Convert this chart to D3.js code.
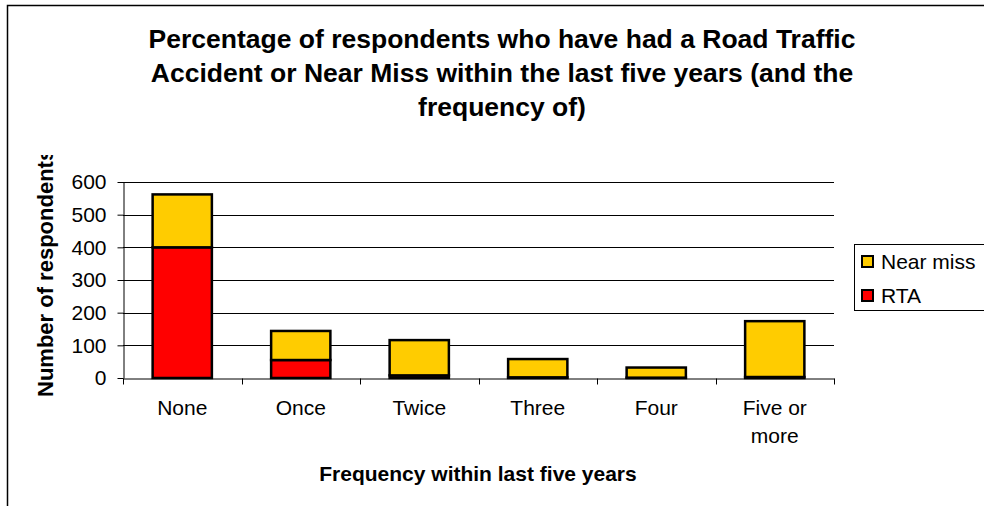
<!DOCTYPE html>
<html>
<head>
<meta charset="utf-8">
<script src="https://cdn.jsdelivr.net/npm/d3@7/dist/d3.min.js"></script>
<style>
  html, body { margin: 0; padding: 0; background: #fff; }
  svg { display: block; font-family: "Liberation Sans", Arial, sans-serif; }
</style>
</head>
<body>
<svg id="chart" width="984" height="506"></svg>
<script>
// Survey responses: accidents / near misses in the last five years
const categories = ["None", "Once", "Twice", "Three", "Four", "Five or more"];
const categoryLines = [["None"], ["Once"], ["Twice"], ["Three"], ["Four"], ["Five or", "more"]];
const rtaValues = [400, 55, 8, 2, 1, 3];
const nearMissValues = [162, 89, 108, 56, 31, 171];
const yTicks = [0, 100, 200, 300, 400, 500, 600];
const seriesNames = ["RTA", "Near miss"];
const seriesColors = { "RTA": "#FF0000", "Near miss": "#FFCC00" };
const titleLines = [
  "Percentage of respondents who have had a Road Traffic",
  "Accident or Near Miss within the last five years (and the",
  "frequency of)"
];

const FONT = "Liberation Sans, Arial, sans-serif";
const svg = d3.select("#chart");

// outer chart frame (runs off the right and bottom edges)
svg.append("rect")
  .attr("x", 7.5).attr("y", 5.5)
  .attr("width", 1000).attr("height", 520)
  .attr("fill", "#fff").attr("stroke", "#000").attr("stroke-width", 1.5);

const plot = { left: 123, right: 834, top: 182, bottom: 378 };

const x = d3.scaleBand().domain(categories).range([plot.left, plot.right]).paddingInner(0).paddingOuter(0);
const y = d3.scaleLinear().domain([0, 600]).range([plot.bottom, plot.top]);

// title
svg.append("text")
  .attr("text-anchor", "middle")
  .attr("font-weight", "bold").attr("font-size", 26.5)
  .selectAll("tspan").data(titleLines).join("tspan")
  .attr("x", 502).attr("y", (d, i) => 48 + i * 34)
  .text(d => d);

// gridlines
svg.append("g")
  .selectAll("line").data(yTicks.filter(t => t > 0)).join("line")
  .attr("x1", plot.left).attr("x2", plot.right)
  .attr("y1", d => Math.round(y(d)) + 0.5).attr("y2", d => Math.round(y(d)) + 0.5)
  .attr("stroke", "#000").attr("stroke-width", 1);

// stacked bars
const rows = categories.map((c, i) => ({ cat: c, "RTA": rtaValues[i], "Near miss": nearMissValues[i] }));
const stacked = d3.stack().keys(seriesNames)(rows);
const barW = x.bandwidth() / 2;

svg.append("g").selectAll("g").data(stacked).join("g")
  .attr("fill", d => seriesColors[d.key])
  .selectAll("rect").data(d => d).join("rect")
  .attr("x", d => x(d.data.cat) + (x.bandwidth() - barW) / 2)
  .attr("y", d => y(d[1]))
  .attr("width", barW)
  .attr("height", d => y(d[0]) - y(d[1]))
  .attr("stroke", "#000").attr("stroke-width", 2.5);

// y axis
const yAxis = svg.append("g")
  .attr("transform", `translate(${plot.left + 0.5},0)`)
  .call(d3.axisLeft(y).tickValues(yTicks).tickSize(6).tickPadding(11).tickSizeOuter(0));
yAxis.select(".domain").attr("stroke", "#000");
yAxis.selectAll(".tick line").attr("stroke", "#000");
yAxis.selectAll(".tick text")
  .attr("font-family", FONT)
  .attr("font-size", 21).attr("fill", "#000");

// x axis
const xAxis = svg.append("g")
  .attr("transform", `translate(0,${plot.bottom + 0.5})`)
  .call(d3.axisBottom(x).tickValues([]).tickSizeOuter(0));
xAxis.select(".domain").attr("stroke", "#000");
xAxis.selectAll(".sep").data(d3.range(categories.length + 1)).join("line")
  .attr("class", "sep")
  .attr("x1", i => Math.round(plot.left + i * x.bandwidth()) + 0.5)
  .attr("x2", i => Math.round(plot.left + i * x.bandwidth()) + 0.5)
  .attr("y1", 0).attr("y2", 6)
  .attr("stroke", "#000");

svg.append("g").selectAll("text").data(categories).join("text")
  .attr("text-anchor", "middle")
  .attr("font-size", 21).attr("fill", "#000")
  .each(function(d, i) {
    const t = d3.select(this);
    categoryLines[i].forEach((line, j) => {
      t.append("tspan")
        .attr("x", x(d) + x.bandwidth() / 2)
        .attr("y", 415 + j * 28)
        .text(line);
    });
  });

// axis titles
svg.append("text")
  .attr("x", 478).attr("y", 481)
  .attr("text-anchor", "middle")
  .attr("font-weight", "bold").attr("font-size", 21)
  .text("Frequency within last five years");

// vertical axis title, cut off where its box ends
svg.append("clipPath").attr("id", "ylabel-clip")
  .append("rect").attr("x", 0).attr("y", 155).attr("width", 120).attr("height", 300);

svg.append("g")
  .attr("clip-path", "url(#ylabel-clip)")
  .append("text")
  .attr("transform", "translate(53,397) rotate(-90)")
  .attr("text-anchor", "start")
  .attr("font-weight", "bold").attr("font-size", 22)
  .text("Number of respondents");

// legend
const legend = svg.append("g");
legend.append("rect")
  .attr("x", 854.5).attr("y", 244.5)
  .attr("width", 140).attr("height", 66)
  .attr("fill", "#fff").attr("stroke", "#000").attr("stroke-width", 1);

const legendItems = ["Near miss", "RTA"];
const li = legend.selectAll(".item").data(legendItems).join("g")
  .attr("class", "item")
  .attr("transform", (d, i) => `translate(0,${i * 34})`);
li.append("rect")
  .attr("x", 862).attr("y", 256).attr("width", 11).attr("height", 11)
  .attr("fill", d => seriesColors[d]).attr("stroke", "#000").attr("stroke-width", 2);
li.append("text")
  .attr("x", 881).attr("y", 269)
  .attr("font-size", 21).attr("fill", "#000")
  .text(d => d);
</script>
</body>
</html>
